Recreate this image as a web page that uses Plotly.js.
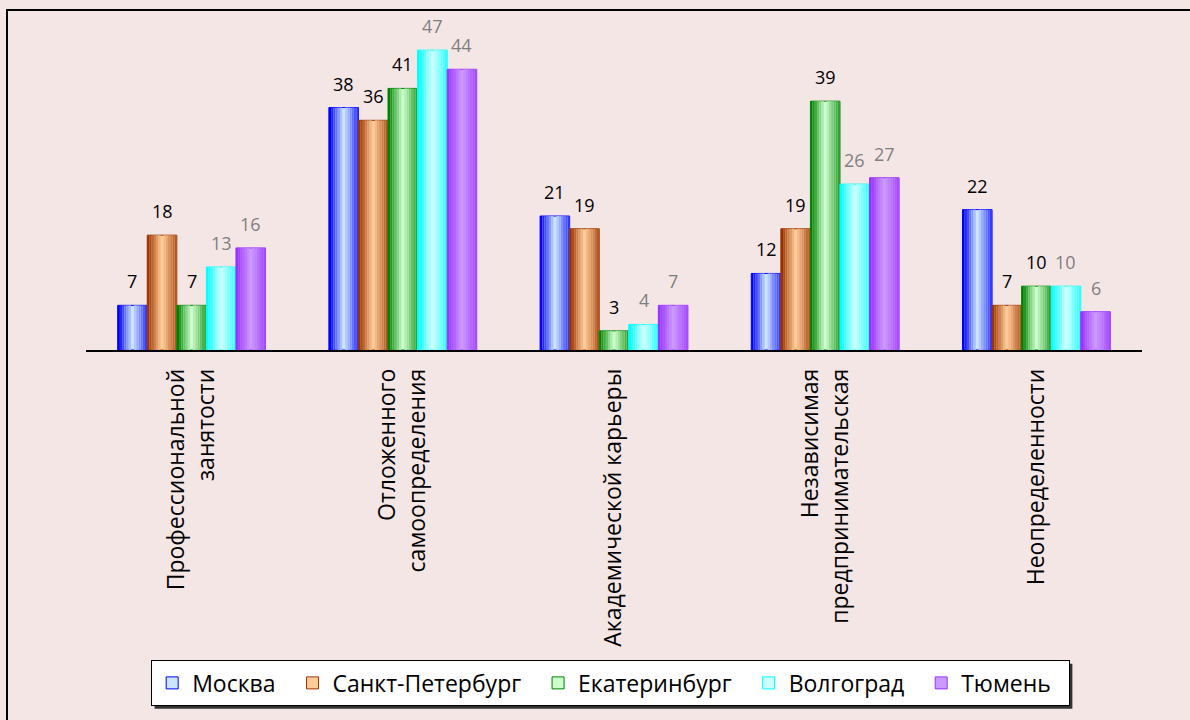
<!DOCTYPE html>
<html>
<head>
<meta charset="utf-8">
<script src="https://cdn.plot.ly/plotly-3.0.1.min.js"></script>
<style>html,body{margin:0;padding:0;background:#F5E6E6;}#chart{width:1190px;height:720px;}</style>
</head>
<body>
<div id="chart"></div>
<script>
// ---- data ----
const categories = ["Профессиональной<br>занятости", "Отложенного<br>самоопределения", "Академической карьеры", "Независимая<br>предпринимательская", "Неопределенности"];
const cities = ["Москва", "Санкт-Петербург", "Екатеринбург", "Волгоград", "Тюмень"];
const moscow = [7, 38, 21, 12, 22];
const spb = [18, 36, 19, 19, 7];
const ekb = [7, 41, 3, 39, 10];
const volgograd = [13, 47, 4, 26, 10];
const tyumen = [16, 44, 7, 27, 6];

// ---- styles ----
const seriesValues = [moscow, spb, ekb, volgograd, tyumen];
const edgeColors = ["#0000FF", "#993300", "#008000", "#00FFFF", "#9933FF"];
const centerColors = ["#CCE5FF", "#FFCC99", "#CCFFCC", "#CCFFFF", "#CC99FF"];
const labelColors = ["#000000", "#000000", "#000000", "#7F7F7F", "#7F7F7F"];

function hex2rgb(h){h=h.replace('#','');return [parseInt(h.substr(0,2),16),parseInt(h.substr(2,2),16),parseInt(h.substr(4,2),16)];}
function mix(a,b,t){const A=hex2rgb(a),B=hex2rgb(b);return 'rgb('+A.map((v,i)=>Math.round(v+(B[i]-v)*t)).join(',')+')';}

const groupWidth = 0.70;
const bw = groupWidth / cities.length;
const xIdx = categories.map((c, i) => i);
const traces = [];
const annotations = [];
cities.forEach((city, s) => {
  const vals = seriesValues[s];
  const left = -groupWidth / 2 + s * bw;
  traces.push({
    type: 'bar', name: city + '\u00a0\u00a0', x: xIdx, y: vals,
    offset: left, width: bw,
    marker: {color: centerColors[s], line: {color: edgeColors[s], width: 1}},
    hoverinfo: 'skip', showlegend: true
  });
  const N = 6, sw = bw * 0.075;
  for (let k = 0; k < N; k++) {
    traces.push({
      type: 'bar', x: xIdx, y: vals, offset: left + k * sw, width: sw,
      marker: {color: mix(edgeColors[s], centerColors[s], k / N), line: {width: 0}},
      hoverinfo: 'skip', showlegend: false
    });
    traces.push({
      type: 'bar', x: xIdx, y: vals, offset: left + bw - (k + 1) * sw, width: sw,
      marker: {color: mix(edgeColors[s], centerColors[s], 0.25 + 0.75 * k / N), line: {width: 0}},
      hoverinfo: 'skip', showlegend: false
    });
  }
  vals.forEach((v, i) => {
    annotations.push({
      xref: 'x', yref: 'y', x: xIdx[i] + left + bw / 2, y: v,
      text: String(v), showarrow: false, yanchor: 'bottom', xanchor: 'center', yshift: 10,
      font: {family: 'Open Sans, sans-serif', size: 18, color: labelColors[s]}
    });
  });
});

const pxX = p => (p - 86) / 1056;
const pxY = p => (350 - p) / 319;

const layout = {
  width: 1190, height: 720,
  paper_bgcolor: '#F5E6E6', plot_bgcolor: 'rgba(0,0,0,0)',
  margin: {l: 86, r: 48, t: 31, b: 370},
  barmode: 'overlay',
  font: {family: 'Open Sans, sans-serif', color: '#000'},
  xaxis: {
    type: 'linear', range: [-0.5, 4.5],
    tickvals: xIdx, ticktext: categories, tickangle: -90,
    tickfont: {size: 23, color: '#000'},
    showline: true, linecolor: '#000', linewidth: 1.5,
    showgrid: false, zeroline: false, ticks: '', ticklabelstandoff: 8
  },
  yaxis: {range: [0, 50], visible: false, showgrid: false, zeroline: false},
  legend: {
    orientation: 'h', xref: 'container', yref: 'container',
    x: 0.513, xanchor: 'center', y: 0.083, yanchor: 'top',
    bgcolor: '#FFFFFF', bordercolor: '#000000', borderwidth: 1.2,
    font: {size: 23, color: '#000'}, traceorder: 'normal'
  },
  annotations: annotations,
  shapes: [
    {type: 'rect', xref: 'paper', yref: 'paper', x0: pxX(7), x1: 1.3, y0: -3, y1: pxY(10),
     line: {color: '#000', width: 2}, fillcolor: 'rgba(0,0,0,0)', layer: 'below'}
  ]
};

Plotly.newPlot('chart', traces, layout, {displayModeBar: false, staticPlot: true}).then(gd => {
  const bg = gd.querySelector('.legend .bg');
  if (bg) {
    const bb = bg.getBoundingClientRect();
    const root = gd.getBoundingClientRect();
    const x0 = bb.left - root.left + 3, y0 = bb.top - root.top + 3;
    const x1 = bb.right - root.left + 3, y1 = bb.bottom - root.top + 3;
    Plotly.relayout(gd, {'shapes[1]': {type: 'rect', xref: 'paper', yref: 'paper',
      x0: pxX(x0), x1: pxX(x1), y0: pxY(y1), y1: pxY(y0),
      line: {width: 0}, fillcolor: '#333333', layer: 'above'}});
  }
});
</script>
</body>
</html>
